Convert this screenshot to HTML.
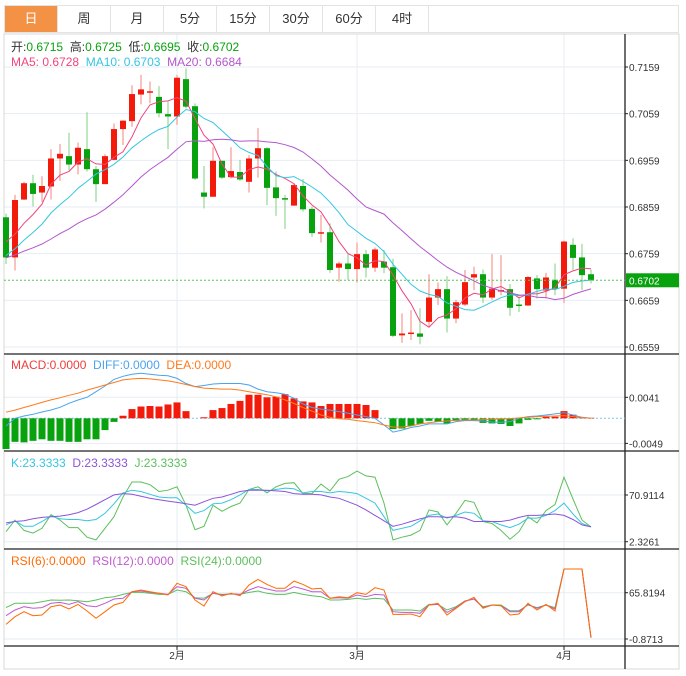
<!DOCTYPE html>
<html><head><meta charset="utf-8">
<style>
body{margin:0;background:#fff;width:686px;height:676px;overflow:hidden;font-family:"Liberation Sans","Noto Sans CJK SC",sans-serif}
#tabs{position:absolute;left:4px;top:5px;height:28px;width:675px;border:1px solid #e3e3e3;box-sizing:border-box;display:flex}
.tab{width:53px;height:26px;line-height:26px;text-align:center;font-size:13px;color:#333;border-right:1px solid #e3e3e3;box-sizing:border-box}
.tab.on{background:#f39144;color:#fff}
svg{position:absolute;left:0;top:0}
</style></head><body>
<div id="tabs">
<div class="tab on">日</div>
<div class="tab">周</div>
<div class="tab">月</div>
<div class="tab">5分</div>
<div class="tab">15分</div>
<div class="tab">30分</div>
<div class="tab">60分</div>
<div class="tab">4时</div>
</div>
<svg id="c" width="686" height="676" font-family="Liberation Sans, Noto Sans CJK SC, sans-serif"></svg>
<script>
const priorCloses=[0.6745,0.6745,0.6745,0.6745,0.6745,0.6745,0.6745,0.6745,0.6745,0.6745,0.6725,0.6725,0.6725,0.6725,0.6725,0.6793,0.6793,0.6793,0.6793];
const opens=[0.6837,0.6751,0.6875,0.6910,0.6890,0.6903,0.6963,0.6968,0.6950,0.6983,0.6940,0.6908,0.6960,0.7026,0.7043,0.7100,0.7105,0.7095,0.7058,0.7053,0.7133,0.7075,0.6890,0.6881,0.6958,0.6923,0.6934,0.6913,0.6963,0.6985,0.6901,0.6878,0.6862,0.6904,0.6855,0.6803,0.6805,0.6729,0.6738,0.6726,0.6758,0.6729,0.6742,0.6730,0.6584,0.6588,0.6588,0.6613,0.6665,0.6683,0.6620,0.6650,0.6708,0.6715,0.6665,0.6680,0.6683,0.6650,0.6648,0.6706,0.6680,0.6703,0.6684,0.6778,0.6751,0.6715];
const highs=[0.6845,0.6885,0.6913,0.6928,0.6925,0.6983,0.6994,0.7018,0.6997,0.7062,0.6947,0.6972,0.7038,0.7045,0.7120,0.7142,0.7128,0.7118,0.7085,0.7142,0.7156,0.7081,0.6947,0.6987,0.6958,0.6987,0.6960,0.6970,0.7028,0.6987,0.6935,0.6885,0.6910,0.6919,0.6860,0.6842,0.6824,0.6742,0.6758,0.6783,0.6767,0.6772,0.6767,0.6748,0.6631,0.6638,0.6642,0.6715,0.6697,0.6711,0.6660,0.6724,0.6731,0.6725,0.6758,0.6756,0.6694,0.6667,0.6711,0.6713,0.6718,0.6738,0.6787,0.6792,0.6780,0.6725];
const lows=[0.6737,0.6723,0.6874,0.6860,0.6870,0.6875,0.6915,0.6938,0.6929,0.6935,0.6870,0.6908,0.6960,0.6992,0.7031,0.7079,0.7081,0.7051,0.6983,0.7035,0.7070,0.6917,0.6856,0.6881,0.6919,0.6920,0.6915,0.6890,0.6922,0.6863,0.6840,0.6812,0.6862,0.6849,0.6795,0.6783,0.6718,0.6699,0.6703,0.6697,0.6708,0.6720,0.6717,0.6580,0.6568,0.6574,0.6565,0.6603,0.6649,0.6590,0.6610,0.6647,0.6681,0.6653,0.6660,0.6670,0.6626,0.6634,0.6647,0.6663,0.6663,0.6670,0.6653,0.6724,0.6681,0.6695];
const closes=[0.6751,0.6874,0.6910,0.6887,0.6904,0.6963,0.6973,0.6950,0.6986,0.6940,0.6908,0.6968,0.7026,0.7044,0.7101,0.7111,0.7107,0.7060,0.7053,0.7136,0.7074,0.6920,0.6881,0.6958,0.6922,0.6936,0.6918,0.6963,0.6985,0.6900,0.6878,0.6876,0.6906,0.6854,0.6803,0.6805,0.6724,0.6738,0.6726,0.6758,0.6729,0.6768,0.6729,0.6583,0.6588,0.6590,0.6581,0.6665,0.6683,0.6620,0.6655,0.6698,0.6715,0.6665,0.6684,0.6681,0.6643,0.6648,0.6709,0.6683,0.6708,0.6684,0.6785,0.6750,0.6713,0.6702];
const priceTicks=[0.7159,0.7059,0.6959,0.6859,0.6759,0.6659,0.6559];
const monthLabels=["2月","3月","4月"];
const monthIdx=[19,39,62];
const macdHist=[-60,-46,-47,-44,-41,-44,-44,-46,-46,-41,-41,-23,-7,5,18,23,24,23,27,31,14,0,2,16,20,28,34,46,46,41,42,47,39,33,31,24,28,28,28,28,26,16,0,-21,-20,-15,-11,-5,-7,-10,-5,-3,-3,-9,-10,-11,-15,-10,-3,-2,3,3,14,7,2,1];
const macdDiff=[-15,0,4.5,7.8,12.4,16.3,21.5,29.3,35.8,41,52,63,76,82,86,88,86,84,83,78,68,62,64,67,68,68,68,65,57,52,50,47,39,28,21,18,16,13,10,6.5,3.3,0,-13,-27,-23,-18,-15,-11,-11,-11,-6.5,-4.5,-4.5,-5.2,-7.2,-7.8,-6.5,0,3.3,4.5,6.5,8.5,11,6.5,2,0];
const macdDea=[12,16,21,26,31,36,40,45,49,55,60,65,70,75,77,78,77,75,73,70,66,62,59,58,57,57,55,52,49,46,42,36,29,21,14,6.5,2,-0.7,-2,-4.5,-6.5,-8.5,-13,-17,-17,-15,-11,-8.5,-6.5,-5.2,-3.9,-3.3,-3.3,-2.6,-2,-1.3,-0.7,0.7,2,3.3,3.9,4.5,5.2,3.3,1.3,0];
const macdTicks=[41,-49];
const kVals=[27,33,25,25,32,40,36,35,35,33,35,44,58,74,78,76,72,68,67,67,56,44,48,58,59,64,71,79,79,77,79,81,80,74,76,76,74,76,75,73,66,59,39,19,22,25,33,41,43,37,41,46,44,33,32,27,23,28,37,37,41,48,59,43,29,24];
const dVals=[30,32,33,36,38,39,40,42,45,50,57,64,71,73,72,69,66,64,62,60,58,56,61,66,68,72,76,78,78,78,77,76,73,72,72,71,68,66,61,56,49,41,33,25,28,32,36,39,39,38,39,37,32,32,32,32,34,38,41,41,42,43,41,35,27,24];
const jVals=[17,34,19,15,22,42,34,23,23,9,5,22,39,68,90,90,86,76,78,83,56,20,25,56,47,54,59,79,83,74,83,88,89,73,73,87,77,94,98,106,99,97,59,5,9,12,19,49,46,27,44,63,60,32,29,19,6,17,39,30,48,57,97,65,34,24];
const kdjTicks=[70.9114,2.3261];
const rsi6=[20.2,31.3,38.5,32.7,33.7,45.7,48.1,42.3,49.0,39.5,28.9,38.5,48.1,51.9,67.3,69.7,67.3,64.9,62.5,79.3,74.5,55.3,46.6,67.3,61.0,64.9,61.5,76.9,85.0,77.8,72.1,72.1,82.6,77.8,71.1,72.1,57.7,60.1,58.6,65.8,63.4,73.0,69.7,34.6,34.6,35.1,31.3,48.1,50.5,33.7,43.3,52.9,59.1,43.3,48.1,47.1,33.7,35.1,50.5,40.9,49.0,39.5,100,100,100,1.0];
const rsi12=[32.7,40.9,45.7,43.3,44.3,50.5,51.9,49.0,52.9,47.1,45.7,50.5,56.7,57.7,67.3,68.2,66.3,64.9,63.4,74.5,72.1,57.7,55.3,64.9,62.5,64.4,63.4,69.7,74.5,71.1,68.2,68.2,74.5,71.1,67.3,67.3,57.7,58.6,57.7,62.5,60.1,63.4,62.5,38.5,37.5,37.5,36.1,48.1,49.0,37.5,44.3,53.8,56.7,44.3,48.1,47.1,38.5,38.5,49.0,43.3,48.1,42.3,100,100,100,1.0];
const rsi24=[44.3,50.5,50.5,50.5,52.9,55.3,54.8,55.3,54.3,52.9,55.3,58.6,60.1,63.4,66.3,66.3,64.9,63.4,63.4,69.7,67.3,58.6,57.7,64.9,63.4,63.9,63.4,66.3,68.2,64.9,63.4,63.4,66.3,63.4,61.5,60.1,55.3,55.3,56.2,57.7,56.2,57.7,56.7,40.9,40.9,40.9,39.5,49.0,49.0,40.9,45.7,53.8,56.7,45.7,48.1,48.1,39.9,39.9,48.1,44.3,48.1,44.3,100,100,100,1.0];
const rsiTicks=[65.8194,-0.8713];

const svg=document.getElementById('c');
const NS='http://www.w3.org/2000/svg';
function mk(t,a,name,parent){const e=document.createElementNS(NS,t);for(const k in a)e.setAttribute(k,a[k]);


(parent||svg).appendChild(e);return e;}
function txt(x,y,s,fill,name,size,anchor){const e=mk('text',{x:x,y:y,fill:fill,'font-size':size||12,'text-anchor':anchor||'start'},name);e.textContent=s;return e;}
const X=i=>6+9*i;
const yP=p=>67+(0.7159-p)*4667;
const yM=v=>418.3-v*0.512;
const yK=v=>495-(v-70.9114)*0.681;
const yR=v=>592.7-(v-65.8194)*0.694;
const L=4,R=625,RR=679;

priceTicks.forEach(p=>mk('line',{x1:L,x2:R,y1:yP(p),y2:yP(p),stroke:'#e6edf2'},'price-gridline'));
macdTicks.forEach(v=>mk('line',{x1:L,x2:R,y1:yM(v),y2:yM(v),stroke:'#e6edf2'},'macd-gridline'));
kdjTicks.forEach(v=>mk('line',{x1:L,x2:R,y1:yK(v),y2:yK(v),stroke:'#e6edf2'},'kdj-gridline'));
rsiTicks.forEach(v=>mk('line',{x1:L,x2:R,y1:yR(v),y2:yR(v),stroke:'#e6edf2'},'rsi-gridline'));
monthIdx.forEach(i=>mk('line',{x1:X(i),x2:X(i),y1:34,y2:646,stroke:'#e6edf2'},'month-gridline'));
mk('rect',{x:L,y:34,width:RR-L,height:635,fill:'none',stroke:'#d8d8d8'},'chart-frame');
[354,451,549,646].forEach(y=>mk('line',{x1:L,x2:RR,y1:y,y2:y,stroke:'#222','stroke-width':1.3},'panel-separator'));
mk('line',{x1:R,x2:R,y1:34,y2:669,stroke:'#222','stroke-width':1.3},'y-axis-line');

const RED='#f21a0a',GRN='#08a20e';
closes.forEach((c,i)=>{const o=opens[i],up=c>=o,col=up?RED:GRN,x=X(i);
mk('line',{x1:x,x2:x,y1:yP(highs[i]),y2:yP(lows[i]),stroke:up?'#f7837a':'#7fcf82'},'candle-wick');
const t=Math.min(yP(o),yP(c)),h=Math.max(1.5,Math.abs(yP(o)-yP(c)));
mk('rect',{x:x-3,y:t,width:6,height:h,fill:col},'candle-body');});
const allCloses=priorCloses.concat(closes);
function ma(n){const off=priorCloses.length;return closes.map((c,i)=>{const j=i+off;const s=allCloses.slice(Math.max(0,j-n+1),j+1);return s.reduce((a,b)=>a+b,0)/s.length;});}
function line(vals,fy,col,name){mk('polyline',{points:vals.map((v,i)=>X(i)+','+fy(v).toFixed(1)).join(' '),fill:'none',stroke:col,'stroke-width':1},name);}
line(ma(5),yP,'#f0457c','ma5-line');line(ma(10),yP,'#35c6e0','ma10-line');line(ma(20),yP,'#b357cc','ma20-line');
const last=closes[closes.length-1];
mk('line',{x1:L,x2:R,y1:yP(last),y2:yP(last),stroke:'#5cc35c','stroke-dasharray':'2,2'},'last-price-line');

mk('line',{x1:L,x2:R,y1:yM(0),y2:yM(0),stroke:'#7cc8e8','stroke-dasharray':'2,2'},'macd-zero-line');
macdHist.forEach((v,i)=>{if(!v)return;mk('rect',{x:X(i)-3.5,y:Math.min(yM(v),yM(0)),width:7,height:Math.abs(yM(v)-yM(0)),fill:v>0?RED:GRN},'macd-bar');});
line(macdDiff,yM,'#4aa3ef','diff-line');line(macdDea,yM,'#ff7a1c','dea-line');
line(jVals,yK,'#5cbf5c','j-line');line(kVals,yK,'#35c6e0','k-line');line(dVals,yK,'#8a55d8','d-line');
line(rsi24,yR,'#5cbf5c','rsi24-line');line(rsi12,yR,'#c05ad0','rsi12-line');line(rsi6,yR,'#ff6a00','rsi6-line');

function tick(y,s,name){mk('line',{x1:R,x2:R+3,y1:y,y2:y,stroke:'#222'},'y-tick');txt(R+4,y+4,s,'#333',name,10);}
priceTicks.forEach(p=>tick(yP(p),p.toFixed(4),'price-tick-label'));
macdTicks.forEach(v=>tick(yM(v),(v/10000).toFixed(4),'macd-tick-label'));
kdjTicks.forEach(v=>tick(yK(v),v.toFixed(4),'kdj-tick-label'));
rsiTicks.forEach(v=>tick(yR(v),v.toFixed(4),'rsi-tick-label'));
mk('rect',{x:R+1,y:yP(last)-7,width:53,height:14,fill:'#08a20e'},'last-price-badge');
txt(R+4,yP(last)+4,last.toFixed(4),'#fff','last-price-label',10);
monthIdx.forEach((i,k)=>{mk('line',{x1:X(i),x2:X(i),y1:646,y2:650,stroke:'#222'},'x-tick');txt(X(i),659,monthLabels[k],'#333','x-tick-label',10,'middle');});

function leg(x,y,parts,name){const t=mk('text',{x:x,y:y,'font-size':12},name);parts.forEach(p=>{const s=mk('tspan',{fill:p[1]},name+'-part',t);s.textContent=p[0];});}
leg(11,51,[['开:','#333'],['0.6715  ','#08a20e'],['高:','#333'],['0.6725  ','#08a20e'],['低:','#333'],['0.6695  ','#08a20e'],['收:','#333'],['0.6702','#08a20e']],'ohlc-legend');
leg(11,66,[['MA5: 0.6728  ','#f0457c'],['MA10: 0.6703  ','#35c6e0'],['MA20: 0.6684','#b357cc']],'ma-legend');
leg(11,369,[['MACD:0.0000  ','#f03c3c'],['DIFF:0.0000  ','#4aa3ef'],['DEA:0.0000','#ff7a1c']],'macd-legend');
leg(11,467,[['K:23.3333  ','#35c6e0'],['D:23.3333  ','#8a55d8'],['J:23.3333','#5cbf5c']],'kdj-legend');
leg(11,565,[['RSI(6):0.0000  ','#ff6a00'],['RSI(12):0.0000  ','#c05ad0'],['RSI(24):0.0000','#5cbf5c']],'rsi-legend');
svg.querySelectorAll('text').forEach(t=>t.setAttribute('style','white-space:pre'));
</script>
</body></html>
